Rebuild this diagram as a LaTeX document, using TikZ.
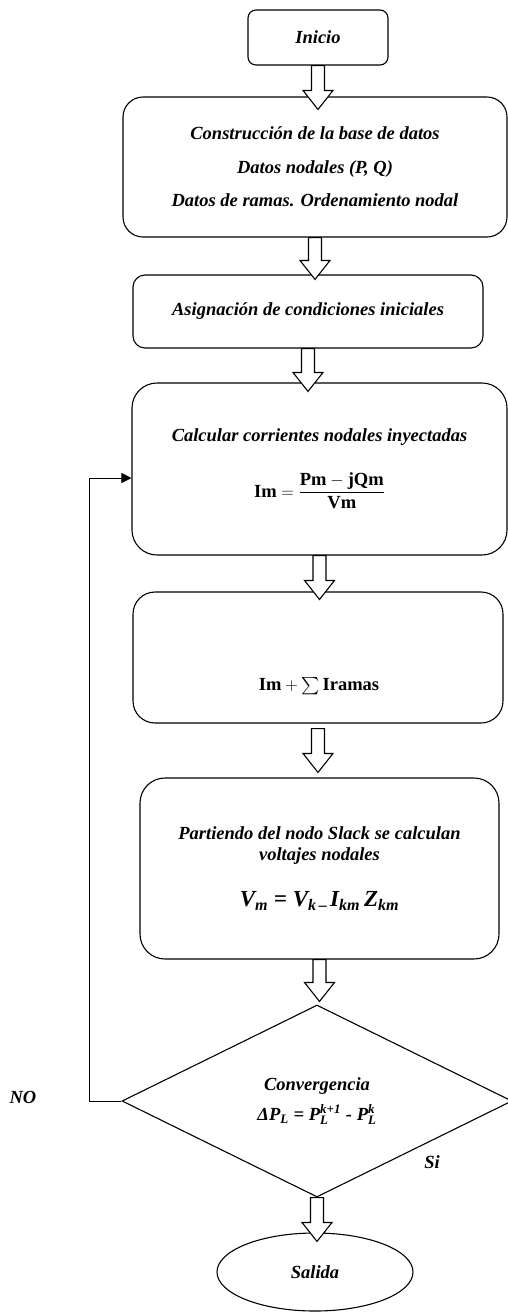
\documentclass[tikz,border=0pt]{standalone}
\usepackage{amsmath}
\usepackage{fontspec}
\setmainfont{Liberation Serif}
\usetikzlibrary{arrows.meta,positioning,shapes.geometric,calc}

\tikzset{
    caja/.style={draw, line width=1.1pt, rounded corners=#1, align=center,
        inner sep=4pt},
    caja/.default=20pt,
    txt/.style={font=\fontsize{18.5}{20.5}\selectfont\bfseries\itshape},
    hueca/.style={draw, line width=1.1pt, fill=white,
        to path={let \p1=(\tikztostart), \p2=(\tikztotarget) in
            (\x1-6.5pt,\y1) -- (\x1-6.5pt,\y2+19pt) -- (\x1-15pt,\y2+19pt)
            -- (\x1,\y2) -- (\x1+15pt,\y2+19pt) -- (\x1+6.5pt,\y2+19pt)
            -- (\x1+6.5pt,\y1) -- cycle}},
    retro/.style={draw, line width=0.7pt, -{Triangle[length=10pt,width=10pt]}},
}

\begin{document}
\begin{tikzpicture}[x=1pt, y=-1pt]
    \useasboundingbox (0,0) rectangle (508,1312);

    % cajas del proceso
    \node[caja=8pt, txt, minimum width=140pt, minimum height=55pt] (inicio) at (318,37.5) {Inicio};
    \node[caja, txt, minimum width=384pt, minimum height=140pt] (base) at (315,167)
        {Construcción de la base de datos\\[13pt]Datos nodales (P, Q)\\[13pt]Datos de ramas. Ordenamiento nodal};
    \node[caja=12pt, txt, minimum width=350pt, minimum height=73pt] (asig) at (308,311.5)
        {Asignación de condiciones iniciales};
    \node[caja=25pt, txt, minimum width=375pt, minimum height=172pt] (calc) at (319.5,469)
        {Calcular corrientes nodales inyectadas\\[26pt]
        $\mathbf{Im}=\dfrac{\mathbf{Pm}-\mathbf{jQm}}{\mathbf{Vm}}$};
    \node[caja=22pt, minimum width=370pt, minimum height=131pt] (suma) at (318,657.5) {};
    \node[txt] (sumatxt) at (319,686) {$\mathbf{Im}+\textstyle\sum\mathbf{Iramas}$};
    \node[caja=25pt, txt, minimum width=359pt, minimum height=181pt] (volt) at (319.5,868.5)
        {Partiendo del nodo Slack se calculan\\voltajes nodales\\[26pt]
        {\fontsize{23}{26}\selectfont V\textsubscript{m} = V\textsubscript{k\,--\,}I\textsubscript{km}\,Z\textsubscript{km}}};
    \node[diamond, draw, line width=1.1pt, txt, align=center, inner sep=0pt,
        minimum width=390pt, minimum height=192pt] (conv) at (317,1101)
        {Convergencia\\[10pt]
        $\text{ΔP}_{\text{L}}\;\text{=}\;\text{P}_{\text{L}}^{\text{k+1}}\;\text{-}\;\text{P}_{\text{L}}^{\text{k}}$};
    \node[ellipse, draw, line width=1.1pt, txt, minimum width=196pt, minimum height=78pt] (salida) at (315,1272) {Salida};

    \node[txt] (no) at (23,1097) {NO};
    \node[txt] (si) at (432,1162) {Si};

    % flechas huecas
    \draw[hueca] (inicio.south) to ([yshift=-13pt]base.north);
    \draw[hueca] (base.south) to ([yshift=-5pt]asig.north);
    \draw[hueca] (asig.south) to ([yshift=-9pt]calc.north);
    \draw[hueca] (calc.south) to ([yshift=-8pt]suma.north);
    \draw[hueca] ([yshift=-5pt]suma.south) to ([yshift=5pt]volt.north);
    \draw[hueca] (volt.south) to ([yshift=3pt]conv.north);
    \draw[hueca] (conv.south) to ([yshift=-9pt]salida.north);

    % lazo de retorno
    \draw[retro] (conv.west) -- ++(-32,0) |- ([yshift=-9pt]calc.west);
\end{tikzpicture}
\end{document}
